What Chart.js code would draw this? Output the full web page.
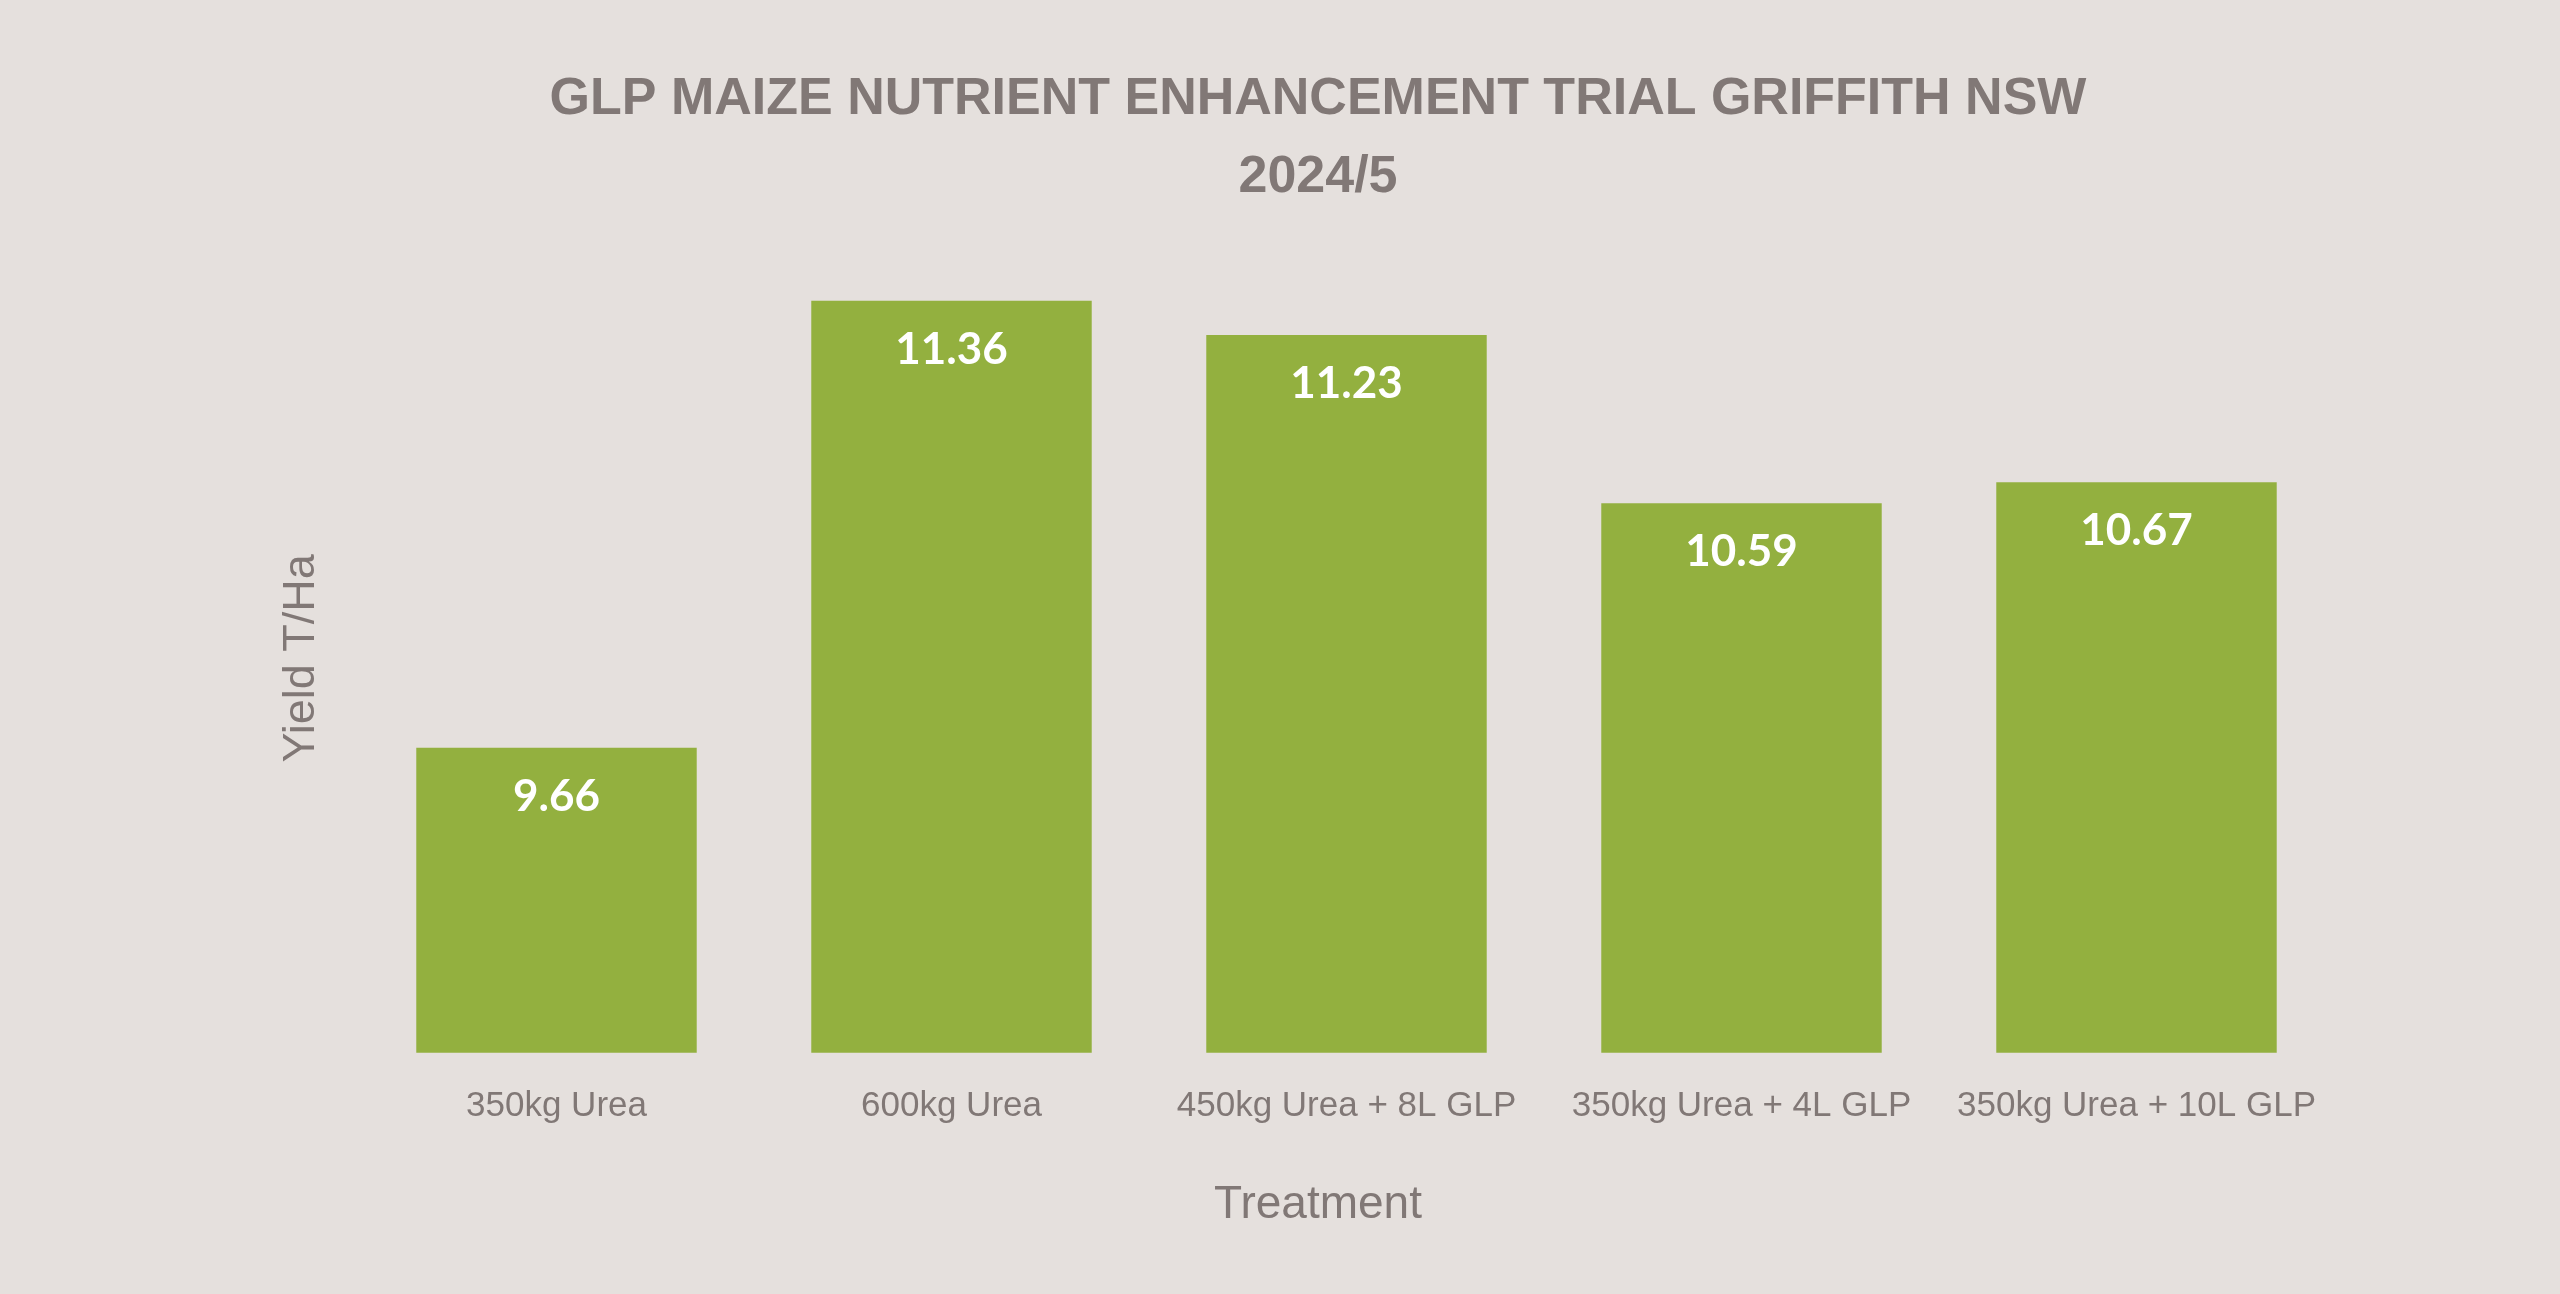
<!DOCTYPE html>
<html>
<head>
<meta charset="utf-8">
<script src="https://cdn.jsdelivr.net/npm/chart.js@4.4.1/dist/chart.umd.min.js"></script>
<style>
  html, body { margin: 0; padding: 0; background: #e5e0dd; }
  #myChart { display: block; }
</style>
</head>
<body>
<canvas id="myChart" width="2560" height="1294"></canvas>
<script>
// chart data
treatments = ['350kg Urea', '600kg Urea', '450kg Urea + 8L GLP', '350kg Urea + 4L GLP', '350kg Urea + 10L GLP']
yields = [9.66, 11.36, 11.23, 10.59, 10.67]
titleLines = ['GLP MAIZE NUTRIENT ENHANCEMENT TRIAL GRIFFITH NSW', '2024/5']
xTitle = 'Treatment'
yTitle = 'Yield T/Ha'

var grey = '#817876'
var green = '#93b03f'

// white value labels inside top of each bar
var barLabels = {
  id: 'barLabels',
  afterDatasetsDraw(chart) {
    var ctx = chart.ctx
    var meta = chart.getDatasetMeta(0)
    ctx.save()
    ctx.fillStyle = '#ffffff'
    ctx.font = 'bold 44px Lato'
    ctx.textAlign = 'center'
    ctx.textBaseline = 'middle'
    meta.data.forEach(function (bar, i) {
      ctx.fillText(yields[i].toFixed(2), bar.x, bar.y + 49)
    })
    ctx.restore()
  }
}

var ctx = document.getElementById('myChart').getContext('2d');
chartOne = new Chart(ctx, {
  type: 'bar',
  data: {
    labels: treatments,
    datasets: [{
      label: yTitle,
      data: yields,
      backgroundColor: green,
      borderWidth: 0,
      categoryPercentage: 1,
      barPercentage: 0.71
    }]
  },
  options: {
    responsive: false,
    devicePixelRatio: 1,
    animation: false,
    layout: { padding: { left: 302, right: 226, top: 61, bottom: 61 } },
    plugins: {
      legend: { display: false },
      tooltip: { enabled: false },
      title: {
        display: true,
        text: titleLines,
        color: grey,
        font: { family: 'Liberation Sans', size: 52, weight: 'bold', lineHeight: 1.5 },
        padding: { top: 0, bottom: 47 }
      },
      // x axis title, centred over the full width like the original
      subtitle: {
        display: true,
        position: 'bottom',
        text: xTitle,
        color: grey,
        font: { family: 'Liberation Sans', size: 46, weight: 'normal', lineHeight: 1.2 },
        padding: { top: 17, bottom: 0 }
      }
    },
    scales: {
      x: {
        grid: { display: false, drawTicks: false },
        border: { display: false },
        ticks: { color: grey, padding: 33, font: { family: 'Liberation Sans', size: 35 } }
      },
      y: {
        min: 8.5,
        max: 11.5,
        grid: { display: false, drawTicks: false },
        border: { display: false },
        ticks: { display: false },
        title: {
          display: true,
          text: yTitle,
          color: grey,
          font: { family: 'Liberation Sans', size: 45 },
          padding: { top: -27, bottom: 30 }
        }
      }
    }
  },
  plugins: [barLabels]
})
</script>
</body>
</html>
